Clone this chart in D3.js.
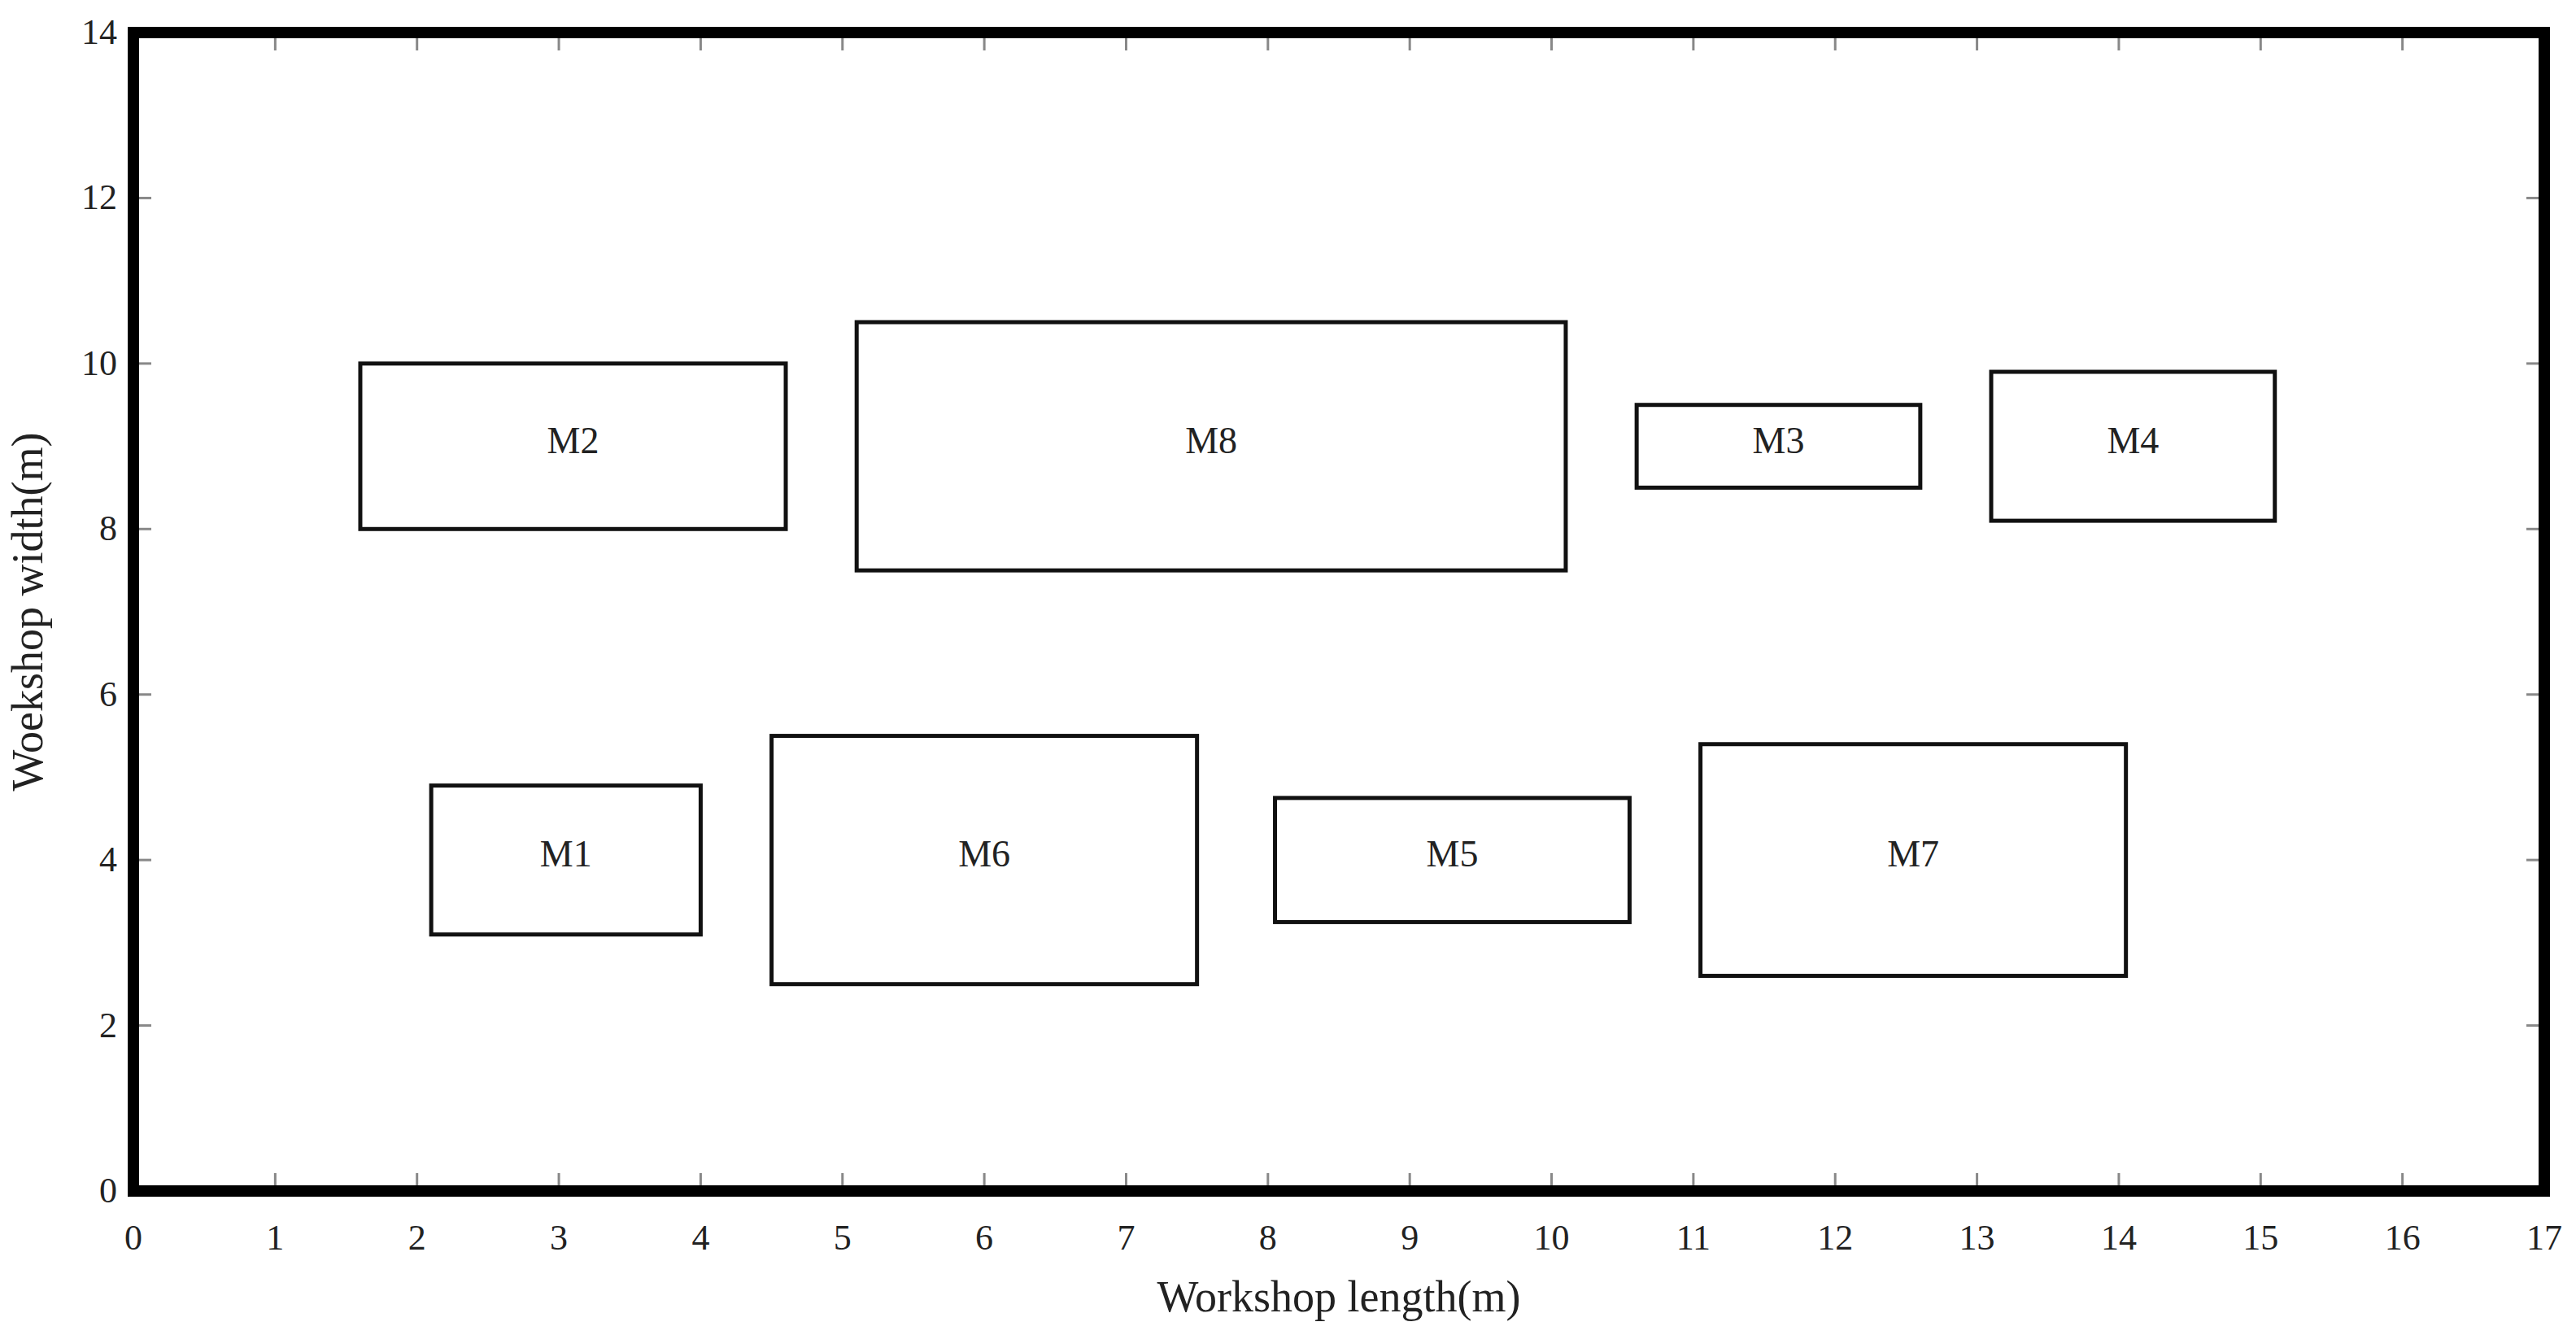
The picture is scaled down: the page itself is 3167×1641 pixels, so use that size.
<!DOCTYPE html>
<html>
<head>
<meta charset="utf-8">
<script src="https://cdn.jsdelivr.net/npm/d3@7"></script>
<style>
  body { margin: 0; background: #fff; }
  text { font-family: "Liberation Serif", "DejaVu Serif", serif; fill: #222; }
</style>
</head>
<body>
<svg id="chart" width="3167" height="1641"></svg>
<script>
// machine layout: name, x0, x1, y0, y1 (metres)
const machines = ["M1", "M2", "M3", "M4", "M5", "M6", "M7", "M8"];
const xStart = [2.1, 1.6, 10.6, 13.1, 8.05, 4.5, 11.05, 5.1];
const xEnd   = [4.0, 4.6, 12.6, 15.1, 10.55, 7.5, 14.05, 10.1];
const yStart = [3.1, 8.0, 8.5, 8.1, 3.25, 2.5, 2.6, 7.5];
const yEnd   = [4.9, 10.0, 9.5, 9.9, 4.75, 5.5, 5.4, 10.5];
const xTicks = d3.range(0, 18);
const yTicks = [0, 2, 4, 6, 8, 10, 12, 14];

const svg = d3.select("#chart");
const margin = { left: 164, right: 39, top: 40, bottom: 177 };
const W = 3167, H = 1641;

const x = d3.scaleLinear().domain([0, 17]).range([margin.left, W - margin.right]);
const y = d3.scaleLinear().domain([0, 14]).range([H - margin.bottom, margin.top]);

// inward ticks on all four sides
const tickLen = 22;
const g = svg.append("g");
xTicks.forEach(t => {
  g.append("line").attr("x1", x(t)).attr("x2", x(t)).attr("y1", y(0)).attr("y2", y(0) - tickLen)
    .attr("stroke", "#888").attr("stroke-width", 3);
  g.append("line").attr("x1", x(t)).attr("x2", x(t)).attr("y1", y(14)).attr("y2", y(14) + tickLen)
    .attr("stroke", "#888").attr("stroke-width", 3);
  svg.append("text").attr("x", x(t)).attr("y", y(0) + 72)
    .attr("text-anchor", "middle").attr("font-size", 44).text(t);
});
yTicks.forEach(t => {
  g.append("line").attr("x1", x(0)).attr("x2", x(0) + tickLen).attr("y1", y(t)).attr("y2", y(t))
    .attr("stroke", "#888").attr("stroke-width", 3);
  g.append("line").attr("x1", x(17)).attr("x2", x(17) - tickLen).attr("y1", y(t)).attr("y2", y(t))
    .attr("stroke", "#888").attr("stroke-width", 3);
  svg.append("text").attr("x", x(0) - 20).attr("y", y(t) + 14)
    .attr("text-anchor", "end").attr("font-size", 44).text(t);
});

// machines
const data = machines.map((m, i) => ({ name: m, x0: xStart[i], x1: xEnd[i], y0: yStart[i], y1: yEnd[i] }));
svg.selectAll(".box").data(data).join("rect")
  .attr("class", "box")
  .attr("x", d => x(d.x0)).attr("y", d => y(d.y1))
  .attr("width", d => x(d.x1) - x(d.x0)).attr("height", d => y(d.y0) - y(d.y1))
  .attr("fill", "none").attr("stroke", "#111").attr("stroke-width", 5);
svg.selectAll(".lbl").data(data).join("text")
  .attr("class", "lbl")
  .attr("x", d => x((d.x0 + d.x1) / 2)).attr("y", d => y((d.y0 + d.y1) / 2) + 8)
  .attr("text-anchor", "middle").attr("font-size", 46).text(d => d.name);

// frame
svg.append("rect").attr("x", x(0)).attr("y", y(14))
  .attr("width", x(17) - x(0)).attr("height", y(0) - y(14))
  .attr("fill", "none").attr("stroke", "#000").attr("stroke-width", 14);

// axis titles
svg.append("text").attr("x", (x(0) + x(17)) / 2).attr("y", 1612)
  .attr("text-anchor", "middle").attr("font-size", 54).text("Workshop length(m)");
svg.append("text").attr("transform", `translate(52,${(y(0) + y(14)) / 2}) rotate(-90)`)
  .attr("text-anchor", "middle").attr("font-size", 54).text("Woekshop width(m)");
</script>
</body>
</html>
